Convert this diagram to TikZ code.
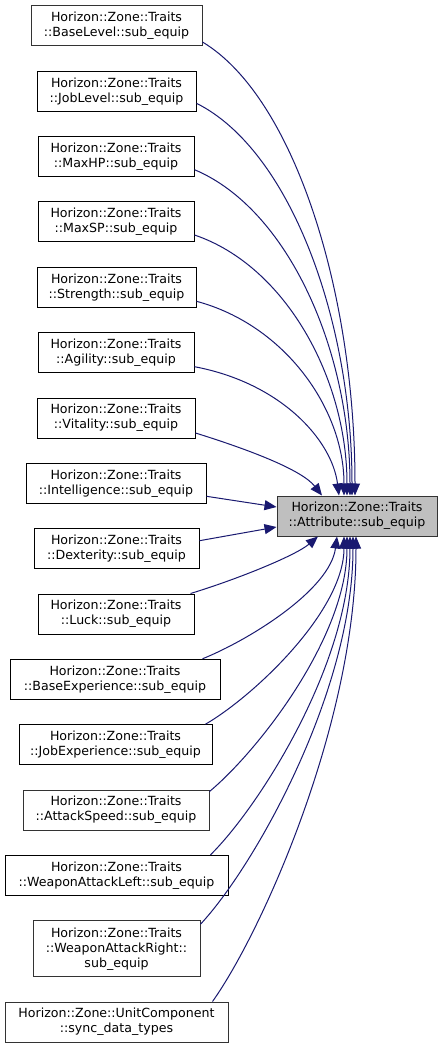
\documentclass[tikz,border=0pt]{standalone}
\usepackage{fontspec}
\setmainfont{DejaVu Sans}
\usetikzlibrary{arrows.meta}
\definecolor{edgeblue}{HTML}{191970}
\definecolor{boxgray}{HTML}{333333}
\begin{document}
\begin{tikzpicture}[x=1pt,y=-1pt,
  fn/.style={draw=black,line width=1pt,fill=white,minimum height=40pt,inner sep=0pt,align=center,
     font=\fontsize{12.6pt}{15pt}\selectfont},
  fng/.style={fn,draw=boxgray},
  tgt/.style={fn,draw=boxgray,fill=black!25},
  edge/.style={draw=edgeblue,line width=1pt,-{Triangle[length=12pt,width=10pt]}}]
\useasboundingbox (0,0) rectangle (443,1048);
\fill[white] (0,0) rectangle (443,1048);

\node[tgt,minimum width=160pt] (t) at (357,516) {Horizon::Zone::Traits\\::Attribute::sub\_equip};

\node[fng,minimum width=171pt] (b1) at (116.5,26) {Horizon::Zone::Traits\\::BaseLevel::sub\_equip};
\node[fn,minimum width=159pt] (b2) at (116.5,91.3) {Horizon::Zone::Traits\\::JobLevel::sub\_equip};
\node[fn,minimum width=156pt] (b3) at (116,156.7) {Horizon::Zone::Traits\\::MaxHP::sub\_equip};
\node[fn,minimum width=156pt] (b4) at (116,222) {Horizon::Zone::Traits\\::MaxSP::sub\_equip};
\node[fn,minimum width=159pt] (b5) at (116.5,287.3) {Horizon::Zone::Traits\\::Strength::sub\_equip};
\node[fn,minimum width=156pt] (b6) at (116,352.7) {Horizon::Zone::Traits\\::Agility::sub\_equip};
\node[fn,minimum width=158pt] (b7) at (116,418) {Horizon::Zone::Traits\\::Vitality::sub\_equip};
\node[fn,minimum width=180pt] (b8) at (116,483.3) {Horizon::Zone::Traits\\::Intelligence::sub\_equip};
\node[fn,minimum width=165pt] (b9) at (116.5,548.7) {Horizon::Zone::Traits\\::Dexterity::sub\_equip};
\node[fn,minimum width=156pt] (b10) at (116,614) {Horizon::Zone::Traits\\::Luck::sub\_equip};
\node[fn,minimum width=210pt] (b11) at (115,679.3) {Horizon::Zone::Traits\\::BaseExperience::sub\_equip};
\node[fn,minimum width=193pt] (b12) at (115.5,744.7) {Horizon::Zone::Traits\\::JobExperience::sub\_equip};
\node[fng,minimum width=186pt] (b13) at (116,810) {Horizon::Zone::Traits\\::AttackSpeed::sub\_equip};
\node[fn,minimum width=223pt] (b14) at (116.5,875.3) {Horizon::Zone::Traits\\::WeaponAttackLeft::sub\_equip};
\node[fng,minimum width=167pt,minimum height=56pt] (b15) at (116.5,948.7) {Horizon::Zone::Traits\\::WeaponAttackRight::\\sub\_equip};
\node[fng,minimum width=223pt] (b16) at (116.5,1022) {Horizon::Zone::UnitComponent\\::sync\_data\_types};

% edges from above
\draw[edge] ([yshift=-16pt]b1.east) .. controls (294,97) and (355,292) .. ([xshift=-2pt]t.north);
\draw[edge] ([yshift=-12pt]b2.east) .. controls (290,150) and (352,320) .. ([xshift=-5pt]t.north);
\draw[edge] ([yshift=-13pt]b3.east) .. controls (288,209) and (350,350) .. ([xshift=-7pt]t.north);
\draw[edge] ([yshift=-13pt]b4.east) .. controls (286,266) and (347,379) .. ([xshift=-10pt]t.north);
\draw[edge] ([yshift=-14pt]b5.east) .. controls (285,325) and (344,409) .. ([xshift=-13pt]t.north);
\draw[edge] ([yshift=-14pt]b6.east) .. controls (281,383) and (332,440) .. ([xshift=-18pt]t.north);
\draw[edge] ([yshift=-15pt]b7.east) .. controls (250,450) and (302,470) .. ([xshift=-35pt]t.north);
% side edges
\draw[edge] ([yshift=-13pt]b8.east) -- ([yshift=9pt]t.west);
\draw[edge] ([yshift=8pt]b9.east) -- ([yshift=-11pt]t.west);
% edges from below
\draw[edge] ([xshift=-4pt]b10.north east) .. controls (235,580) and (295,556) .. ([xshift=-39pt]t.south);
\draw[edge] ([xshift=-18pt]b11.north east) .. controls (249,640) and (330,590) .. ([xshift=-20pt]t.south);
\draw[edge] ([xshift=-7pt]b12.north east) .. controls (254,696) and (344,611) .. ([xshift=-13pt]t.south);
\draw[edge] ([yshift=-2pt]b13.north east) .. controls (257,752) and (347,638) .. ([xshift=-10pt]t.south);
\draw[edge] ([xshift=-18pt]b14.north east) .. controls (259,807) and (350,664) .. ([xshift=-7pt]t.south);
\draw[edge] ([yshift=-4pt]b15.north east) .. controls (254,867) and (353,692) .. ([xshift=-4pt]t.south);
\draw[edge] ([xshift=-16pt]b16.north east) .. controls (262,932) and (356,722) .. ([xshift=-1pt]t.south);
\end{tikzpicture}
\end{document}
